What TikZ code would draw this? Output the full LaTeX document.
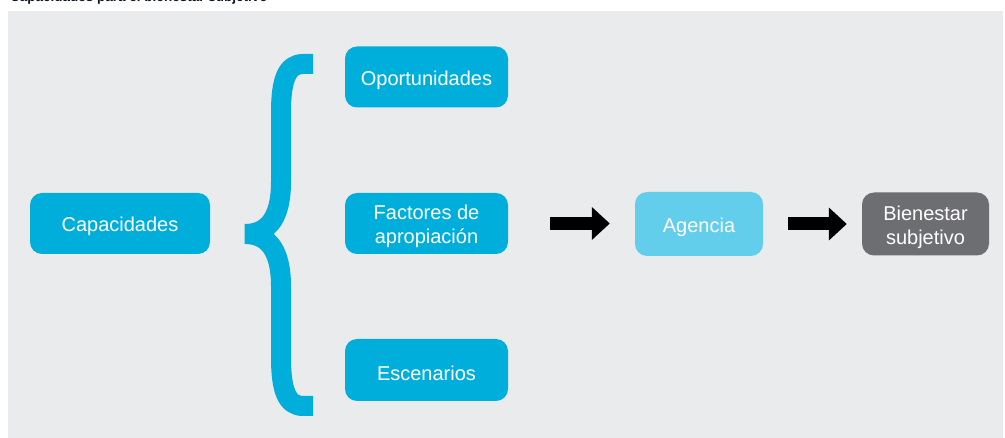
\documentclass[tikz,border=0pt]{standalone}
\usepackage{fontspec}
\setmainfont{Liberation Sans}
\usetikzlibrary{arrows.meta}
\definecolor{bgc}{RGB}{234,235,237}
\definecolor{bluec}{RGB}{0,174,219}
\definecolor{lightc}{RGB}{98,206,235}
\definecolor{grayc}{RGB}{109,110,113}
\definecolor{titlec}{RGB}{20,20,40}
\tikzset{
  box/.style={rounded corners=12pt, inner sep=0pt},
  bluebox/.style={box, fill=bluec},
  txt/.style={inner sep=0pt, align=center, text=white, yshift=-3pt,
    font=\fontsize{20}{24}\selectfont},
  fatarrow/.style={line width=13pt, -{Triangle[length=18pt,width=32pt]}, black},
  bracestyle/.style={draw=bluec, line width=20pt, line join=bevel}
}
\begin{document}
\begin{tikzpicture}[x=1pt,y=-1pt]
\useasboundingbox (0,0) rectangle (1005,438);
\begin{scope}
\clip (0,0) rectangle (1005,438);
\node[anchor=base west, inner sep=0pt, text=titlec, font=\bfseries\fontsize{13.5}{15}\selectfont] (title) at (10,1.2) {Capacidades para el bienestar subjetivo};
\end{scope}
\fill[bgc] (8,11) rectangle (1003,438);

\node[bluebox, minimum width=180pt, minimum height=61pt] (cap) at (120,223.5) {};
\node[txt] (capt) at (cap.center) {Capacidades};
\node[bluebox, minimum width=163pt, minimum height=61pt] (opo) at (426.5,77) {};
\node[txt] (opot) at (opo.center) {Oportunidades};
\node[bluebox, minimum width=163pt, minimum height=61pt] (fac) at (426.5,223.5) {};
\node[txt] (fact) at (fac.center) {Factores de\\apropiación};
\node[bluebox, minimum width=163pt, minimum height=62pt] (esc) at (426.5,370) {};
\node[txt] (esct) at (esc.center) {Escenarios};
\node[box, fill=lightc, minimum width=128pt, minimum height=64pt] (age) at (699,224) {};
\node[txt] (aget) at (age.center) {Agencia};
\node[box, fill=grayc, minimum width=127pt, minimum height=63pt] (bie) at (925.5,224) {};
\node[txt] (biet) at (bie.center) {Bienestar\\subjetivo};

\draw[bracestyle] (313,64) -- (303,64)
  .. controls (287,64) and (281,80) .. (281,112) -- (281,182)
  .. controls (281,215) and (270,234) .. (245,234)
  .. controls (270,234) and (281,253) .. (281,286) -- (281,358)
  .. controls (281,390) and (287,406) .. (303,406) -- (313,406);

\draw[fatarrow, shorten <=42pt, shorten >=25pt] (fac.east) -- (age.west |- fac.east);
\draw[fatarrow, shorten <=25pt, shorten >=15pt] (age.east) -- (bie.west);
\end{tikzpicture}
\end{document}
